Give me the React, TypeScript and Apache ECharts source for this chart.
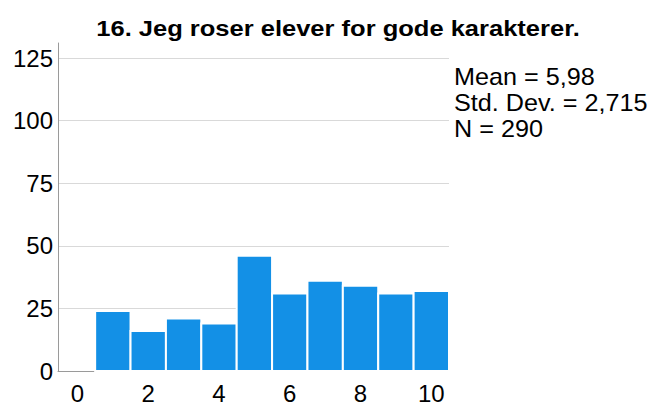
import React, { useEffect, useRef } from "react";
import * as echarts from "echarts";

const title = "16. Jeg roser elever for gode karakterer.";
const binCenters = [1, 2, 3, 4, 5, 6, 7, 8, 9, 10];
const counts = [24, 16, 21, 19, 46, 31, 36, 34, 31, 32];
const xTicks = [0, 2, 4, 6, 8, 10];
const yTicks = [0, 25, 50, 75, 100, 125];
const statsLines = ["Mean = 5,98", "Std. Dev. = 2,715", "N = 290"];

const FONT = '"Liberation Sans", Arial, sans-serif';

export default function App() {
  const ref = useRef<HTMLDivElement>(null);
  useEffect(() => {
    if (!ref.current) return;
    const chart = echarts.init(ref.current, null, { renderer: "svg" });
    const data = binCenters.map((c, i) => [c, counts[i]]);
    chart.setOption({
      animation: false,
      backgroundColor: "#ffffff",
      grid: { left: 58, right: 206, top: 43, bottom: 33, containLabel: false },
      xAxis: {
        type: "value",
        min: -0.55,
        max: 10.5,
        axisLine: { show: true, onZero: false, lineStyle: { color: "#9a9a9a", width: 1 } },
        axisTick: { show: false, customValues: xTicks },
        splitLine: { show: false },
        axisLabel: {
          customValues: xTicks,
          color: "#000",
          fontSize: 24,
          fontFamily: FONT,
          margin: 10,
        },
      },
      yAxis: {
        type: "value",
        min: 0,
        max: 131,
        axisLine: { show: true, onZero: false, lineStyle: { color: "#9a9a9a", width: 1 } },
        axisTick: { show: false, customValues: yTicks },
        splitLine: { show: true, lineStyle: { color: "#d9d9d9", width: 1 } },
        axisLabel: {
          customValues: yTicks,
          color: "#000",
          fontSize: 24,
          fontFamily: FONT,
          margin: 5,
        },
      },
      series: [
        {
          type: "custom",
          data,
          renderItem: (params: any, api: any) => {
            const x = api.value(0);
            const y = api.value(1);
            const p0 = api.coord([x - 0.5, y]);
            const p1 = api.coord([x + 0.5, 0]);
            return {
              type: "rect",
              shape: { x: p0[0], y: p0[1], width: p1[0] - p0[0], height: p1[1] - p0[1] },
              style: { fill: "#1390e6", stroke: "#ffffff", lineWidth: 2 },
            };
          },
        },
      ],
      graphic: [
        {
          type: "text",
          x: 338,
          y: 28,
          scaleX: 1.16,
          style: {
            text: title,
            fontSize: 22,
            fontWeight: "bold",
            fontFamily: FONT,
            fill: "#000",
            textAlign: "center",
            textVerticalAlign: "middle",
          },
        },
        ...statsLines.map((t, i) => ({
          type: "text",
          x: 454,
          y: 77 + i * 25.8,
          scaleX: 1.05,
          style: {
            text: t,
            fontSize: 24,
            fontFamily: FONT,
            fill: "#000",
            textAlign: "left",
            textVerticalAlign: "middle",
          },
        })),
      ],
    });
    return () => chart.dispose();
  }, []);
  return (
    <div
      ref={ref}
      style={{ position: "absolute", left: 0, top: 0, width: 655, height: 405 }}
    />
  );
}
